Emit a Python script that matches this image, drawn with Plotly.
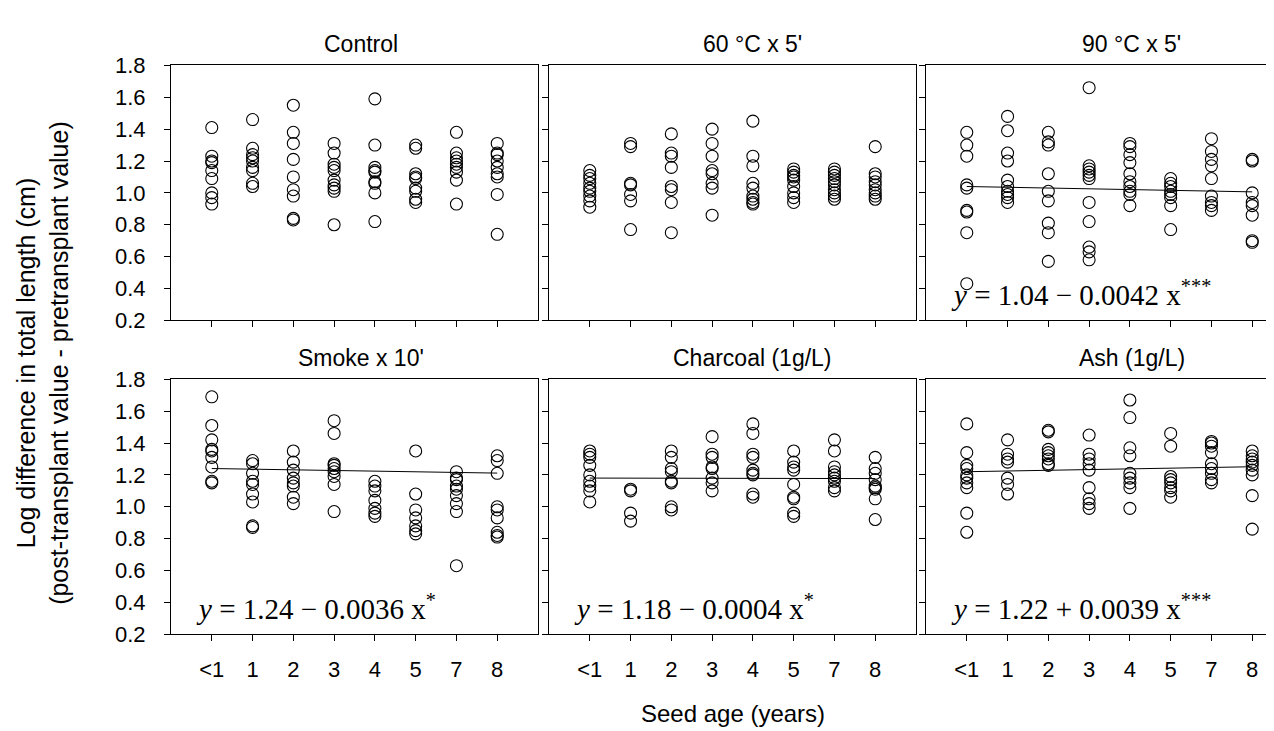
import plotly.graph_objects as go

W, H = 1274, 731

categories = ["<1", "1", "2", "3", "4", "5", "7", "8"]
ages = [0, 1, 2, 3, 4, 5, 7, 8]
panel_titles = ["Control", "60 °C x 5'", "90 °C x 5'", "Smoke x 10'", "Charcoal (1g/L)", "Ash (1g/L)"]

control = [
    [1.41, 1.23, 1.20, 1.19, 1.14, 1.09, 1.00, 0.97, 0.93],
    [1.46, 1.28, 1.24, 1.22, 1.20, 1.16, 1.14, 1.06, 1.04],
    [1.55, 1.38, 1.31, 1.21, 1.10, 1.02, 0.98, 0.84, 0.83],
    [1.31, 1.25, 1.18, 1.16, 1.14, 1.08, 1.05, 1.03, 1.01, 0.80],
    [1.59, 1.30, 1.16, 1.14, 1.13, 1.07, 1.06, 1.00, 0.82],
    [1.30, 1.28, 1.12, 1.10, 1.09, 1.03, 1.01, 0.96, 0.94],
    [1.38, 1.25, 1.22, 1.20, 1.18, 1.16, 1.13, 1.08, 0.93],
    [1.31, 1.25, 1.24, 1.20, 1.16, 1.12, 1.10, 0.99, 0.74],
]
heat60 = [
    [1.14, 1.11, 1.09, 1.06, 1.03, 1.01, 0.98, 0.95, 0.91],
    [1.31, 1.29, 1.06, 1.05, 0.99, 0.95, 0.77],
    [1.37, 1.25, 1.23, 1.16, 1.04, 1.02, 0.94, 0.75],
    [1.40, 1.31, 1.23, 1.14, 1.12, 1.06, 1.03, 0.86],
    [1.45, 1.23, 1.17, 1.06, 1.03, 0.98, 0.96, 0.94, 0.93],
    [1.15, 1.13, 1.11, 1.10, 1.08, 1.04, 1.00, 0.97, 0.94],
    [1.15, 1.13, 1.11, 1.09, 1.07, 1.05, 1.02, 1.00, 0.98, 0.96],
    [1.29, 1.12, 1.10, 1.07, 1.05, 1.02, 1.00, 0.98, 0.96],
]
heat90 = [
    [1.38, 1.30, 1.23, 1.05, 1.03, 0.89, 0.88, 0.75, 0.43],
    [1.48, 1.39, 1.25, 1.20, 1.08, 1.04, 1.01, 0.99, 0.97, 0.94],
    [1.38, 1.32, 1.30, 1.12, 1.01, 0.95, 0.81, 0.75, 0.57],
    [1.66, 1.17, 1.15, 1.13, 1.11, 1.09, 0.94, 0.82, 0.66, 0.63, 0.58],
    [1.31, 1.29, 1.24, 1.19, 1.12, 1.07, 1.04, 1.01, 0.99, 0.92],
    [1.09, 1.06, 1.04, 1.01, 0.99, 0.97, 0.92, 0.77],
    [1.34, 1.26, 1.21, 1.17, 1.09, 0.98, 0.94, 0.92, 0.89],
    [1.21, 1.20, 1.00, 0.94, 0.92, 0.86, 0.70, 0.69],
]
smoke = [
    [1.69, 1.51, 1.42, 1.36, 1.35, 1.31, 1.25, 1.16, 1.15],
    [1.29, 1.27, 1.21, 1.16, 1.14, 1.08, 1.03, 0.88, 0.87],
    [1.35, 1.28, 1.23, 1.18, 1.15, 1.13, 1.06, 1.02],
    [1.54, 1.46, 1.27, 1.26, 1.24, 1.22, 1.19, 1.14, 0.97],
    [1.16, 1.13, 1.10, 1.04, 0.99, 0.96, 0.94],
    [1.35, 1.08, 0.98, 0.93, 0.88, 0.85, 0.83],
    [1.22, 1.18, 1.17, 1.13, 1.11, 1.07, 1.02, 0.97, 0.63],
    [1.32, 1.29, 1.21, 1.00, 0.98, 0.93, 0.84, 0.82, 0.81],
]
charcoal = [
    [1.35, 1.33, 1.31, 1.26, 1.20, 1.16, 1.13, 1.10, 1.03],
    [1.11, 1.10, 0.96, 0.91],
    [1.35, 1.31, 1.24, 1.22, 1.16, 1.15, 1.00, 0.98],
    [1.44, 1.33, 1.31, 1.25, 1.24, 1.18, 1.15, 1.10],
    [1.52, 1.46, 1.33, 1.31, 1.23, 1.21, 1.20, 1.08, 1.06],
    [1.35, 1.28, 1.25, 1.23, 1.14, 1.06, 1.05, 0.96, 0.94],
    [1.42, 1.35, 1.25, 1.22, 1.20, 1.18, 1.16, 1.12, 1.10],
    [1.31, 1.24, 1.21, 1.17, 1.13, 1.12, 1.11, 1.05, 0.92],
]
ash = [
    [1.52, 1.34, 1.26, 1.24, 1.20, 1.18, 1.15, 1.12, 0.96, 0.84],
    [1.42, 1.33, 1.30, 1.28, 1.18, 1.14, 1.08],
    [1.48, 1.47, 1.36, 1.34, 1.32, 1.30, 1.27, 1.26],
    [1.45, 1.33, 1.30, 1.27, 1.23, 1.12, 1.05, 1.02, 0.99],
    [1.67, 1.56, 1.37, 1.32, 1.21, 1.18, 1.15, 1.12, 0.99],
    [1.46, 1.38, 1.19, 1.17, 1.15, 1.12, 1.10, 1.06],
    [1.41, 1.40, 1.38, 1.34, 1.27, 1.24, 1.21, 1.17, 1.15],
    [1.35, 1.32, 1.30, 1.28, 1.26, 1.23, 1.20, 1.07, 0.86],
]

# regression per panel (None = no line)
reg_intercept = [None, None, 1.04, 1.24, 1.18, 1.22]
reg_slope = [None, None, -0.0042, -0.0036, -0.0004, 0.0039]
reg_signif = [None, None, "***", "*", "*", "***"]

y_ticks = [0.2, 0.4, 0.6, 0.8, 1.0, 1.2, 1.4, 1.6, 1.8]

panels = [control, heat60, heat90, smoke, charcoal, ash]

# ---- layout geometry (pixels) ----
col_left = [163, 541, 918]
title_shift = [6, 20, 22]
panel_w = 367
row_top = [47, 372]
panel_h = 264
unit_px = panel_w / 9.0

SANS = "Liberation Sans, Arial, sans-serif"
SERIF = "Liberation Serif, Times New Roman, serif"


def px_x(p):
    return p / W


def px_y(p):
    return 1 - p / H


fig = go.Figure()
layout = dict(
    width=W, height=H,
    margin=dict(l=0, r=0, t=0, b=0),
    paper_bgcolor="white", plot_bgcolor="white",
    showlegend=False,
    font=dict(family=SANS, color="black", size=22),
)
annotations = []

for i, data in enumerate(panels):
    r, c = divmod(i, 3)
    ax = "" if i == 0 else str(i + 1)
    x0 = col_left[c]
    x1 = min(x0 + panel_w, W)
    xmax = -1 + (x1 - x0) / unit_px
    y0 = row_top[r]
    y1 = y0 + panel_h

    xs, ys = [], []
    for k, vals in enumerate(data):
        xs += [k] * len(vals)
        ys += vals
    fig.add_trace(go.Scatter(
        x=xs, y=ys, mode="markers", xaxis="x" + ax, yaxis="y" + ax,
        marker=dict(symbol="circle-open", size=12, color="black", line=dict(width=1.1, color="black")),
        hoverinfo="skip",
    ))
    if reg_intercept[i] is not None:
        a, b = reg_intercept[i], reg_slope[i]
        fig.add_trace(go.Scatter(
            x=[0, len(categories) - 1],
            y=[a + b * ages[0], a + b * ages[-1]],
            mode="lines", xaxis="x" + ax, yaxis="y" + ax,
            line=dict(color="black", width=1), hoverinfo="skip",
        ))
        sign = "−" if b < 0 else "+"
        txt = f"<i>y</i> = {a:.2f} {sign} {abs(b):.4f} x<sup>{reg_signif[i]}</sup>"
        annotations.append(dict(
            text=txt, xref="paper", yref="paper",
            x=px_x(x0 + 23), y=px_y(y0 + 236),
            xanchor="left", yanchor="middle", showarrow=False,
            font=dict(family=SERIF, size=29, color="black"),
        ))

    layout["xaxis" + ax] = dict(
        domain=[px_x(x0), px_x(x1)], anchor="y" + ax,
        range=[-1, xmax], showgrid=False, zeroline=False,
        showline=True, linecolor="black", linewidth=1, mirror=True,
        ticks="outside", ticklen=6, tickcolor="black", tickwidth=1,
        tickvals=list(range(len(categories))), ticktext=categories,
        showticklabels=(r == 1), ticklabelstandoff=9,
        tickfont=dict(family=SANS, size=22, color="black"),
    )
    layout["yaxis" + ax] = dict(
        domain=[px_y(y1), px_y(y0)], anchor="x" + ax,
        range=[0.2, 1.8], showgrid=False, zeroline=False,
        showline=True, linecolor="black", linewidth=1, mirror=(c != 2),
        ticks="outside", ticklen=6, tickcolor="black", tickwidth=1,
        tickvals=y_ticks, ticktext=[f"{v:.1f}" for v in y_ticks],
        showticklabels=(c == 0), ticklabelstandoff=14,
        tickfont=dict(family=SANS, size=22, color="black"),
    )
    annotations.append(dict(
        text=panel_titles[i], xref="paper", yref="paper",
        x=px_x(x0 + panel_w / 2 + title_shift[c]), y=px_y(y0 - 22),
        xanchor="center", yanchor="middle", showarrow=False,
        font=dict(family=SANS, size=23, color="black"),
    ))

annotations.append(dict(
    text="Seed age (years)", xref="paper", yref="paper",
    x=px_x(725), y=px_y(718), xanchor="center", yanchor="middle",
    showarrow=False, font=dict(family=SANS, size=24, color="black"),
))
annotations.append(dict(
    text="Log difference in total length (cm)<br>(post-transplant value - pretransplant value)",
    xref="paper", yref="paper", x=px_x(35), y=px_y(355),
    xanchor="center", yanchor="middle", textangle=-90,
    showarrow=False, font=dict(family=SANS, size=25, color="black"),
))
layout["annotations"] = annotations
fig.update_layout(**layout)
fig.write_html("out.html")
